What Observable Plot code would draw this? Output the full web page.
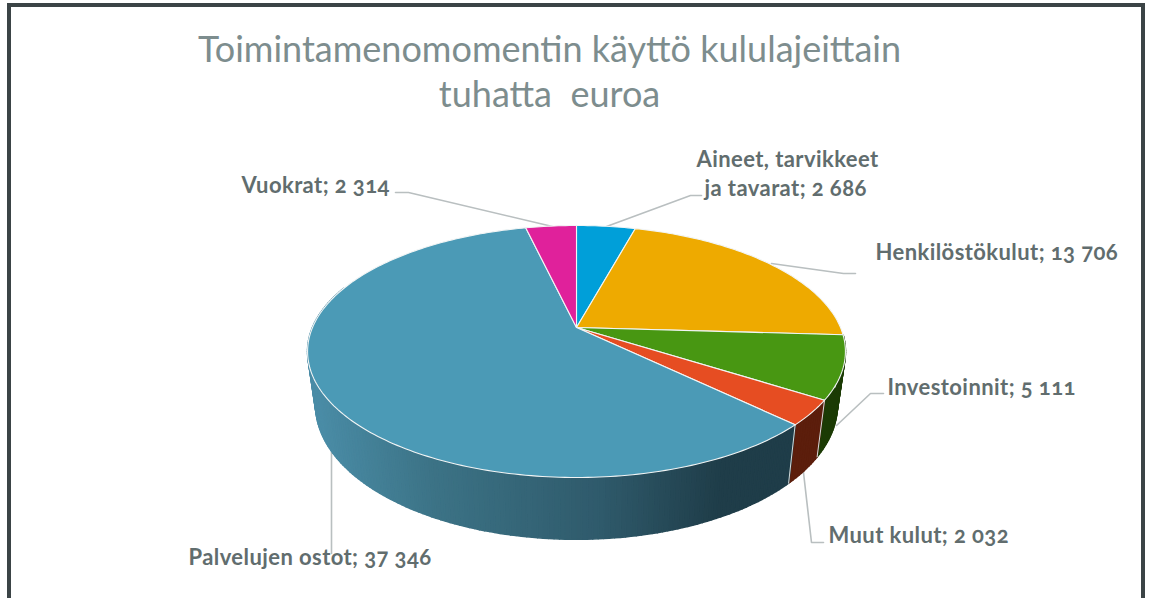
<!DOCTYPE html>
<html><head><meta charset="utf-8">
<script src="https://cdn.jsdelivr.net/npm/d3@7"></script>
<script src="https://cdn.jsdelivr.net/npm/@observablehq/plot@0.6"></script>
<style>html,body{margin:0;padding:0;background:#fff;overflow:hidden}
svg{display:block;font-variant-numeric:oldstyle-nums}
.lbl text{letter-spacing:.42px}</style>
</head><body><div id="chart"></div>
<script>
const categories = ["Aineet, tarvikkeet ja tavarat","Henkilöstökulut","Investoinnit","Muut kulut","Palvelujen ostot","Vuokrat"];
const values = [2686,13706,5111,2032,37346,2314];
const valueLabels = ["2 686","13 706","5 111","2 032","37 346","2 314"];
const topColors = ["#009fd9","#eeaa00","#489712","#e64d22","#4b9ab6","#e0219b"];
const sideColors = ["#00597a","#6a4c00","#1c3b05","#5c1e0c",null,"#7a1056"];

// layout
const W=1149,H=598,cx=576,cy=327,a=264,b=121.4,k=0.1905,sx=0.97,sy=1.065,depthY=52;
const total=d3.sum(values);
let acc=0; const slices=values.map((v,i)=>{const s=acc;acc+=v;return {i,start:s/total*360,end:acc/total*360};});
const proj=t=>{const r=t*Math.PI/180,u=Math.sin(r),v=-Math.cos(r),d=1-k*v;return [a*u/d,b*v/d];};
const topP=t=>{const [X,Y]=proj(t);return [cx+X,cy+Y];};
const botP=t=>{const [X,Y]=proj(t);return [cx+X*sx,cy+depthY+Y*sy];};
const sideGrad=d3.scaleLinear().domain([315,430,600,720]).range(["#4a8ca6","#3c7386","#2f5a6b","#1f3d49"]).clamp(true);

// side strips, back to front
const strips=[];let sid=0;
const pushStrip=(t0,t1,fill)=>{const id=sid++;const pts=[topP(t0),topP(t1),botP(t1),botP(t0)];
  pts.forEach(p=>strips.push({x:p[0],y:p[1],id,fill}));};
const step=1;
slices.forEach(s=>{const c=sideColors[s.i];
  if(s.i===2||s.i===3){for(let t=s.start;t<s.end;t+=step)pushStrip(t,Math.min(t+step,s.end),c);}
  if(s.i===4){for(let t=s.start;t<290;t+=step){const m=topP(t+step/2)[0];pushStrip(t,t+step,sideGrad(m));}}
});
// top slices
const tops=[];
slices.forEach(s=>{tops.push({x:cx,y:cy,i:s.i,fill:topColors[s.i]});
  const n=Math.ceil((s.end-s.start)/1);
  for(let j=0;j<=n;j++){const p=topP(s.start+(s.end-s.start)*j/n);tops.push({x:p[0],y:p[1],i:s.i,fill:topColors[s.i]});}
  tops.push({x:cx,y:cy,i:s.i,fill:topColors[s.i]});});
// side separators
const seps=[slices[2].end,slices[3].end,slices[2].start].flatMap((t,n)=>[{p:topP(t),n},{p:botP(t),n}]).map(d=>({x:d.p[0],y:d.p[1],n:d.n}));

const leaders=[
 [[395,192],[408,192],[552,226]],
 [[606,226],[690,195],[701,195]],
 [[771,263],[843,273],[855,273]],
 [[883,393],[870,393],[836,425]],
 [[823,542],[811,542],[803,472]],
 [[331,452],[331,553]]
].flatMap((l,id)=>l.map(p=>({x:p[0],y:p[1],id})));

const labelText=[
 {x:696,y:159,t:"Aineet, tarvikkeet"},
 {x:704,y:188,t:"ja tavarat; "+valueLabels[0]},
 {x:875,y:252,t:categories[1]+"; "+valueLabels[1]},
 {x:887,y:387,t:categories[2]+"; "+valueLabels[2]},
 {x:828,y:535,t:categories[3]+"; "+valueLabels[3]},
 {x:188,y:557,t:categories[4]+"; "+valueLabels[4]},
 {x:241,y:185,t:categories[5]+"; "+valueLabels[5]}
];
const titleLines=[{x:549,y:50,t:"Toimintamenomomentin käyttö kululajeittain"},{x:549,y:95,t:"tuhatta  euroa"}];
const frame=[{x1:9,x2:1143,y1:5,y2:620}];
const font="Lato";

const plot=Plot.plot({
 width:W,height:H,margin:0,
 x:{domain:[0,W],range:[0,W],axis:null},
 y:{domain:[0,H],range:[0,H],axis:null},
 color:{type:"identity"},
 style:{background:"#fff",fontFamily:font},
 marks:[
  Plot.rect(frame,{x1:"x1",x2:"x2",y1:"y1",y2:"y2",fill:"none",stroke:"#3b4446",strokeWidth:4}),
  Plot.line(leaders,{x:"x",y:"y",z:"id",stroke:"#b9bfc0",strokeWidth:1.6,curve:"linear"}),
  Plot.line(strips,{x:"x",y:"y",z:"id",fill:"fill",stroke:"fill",strokeWidth:1.6,curve:"linear-closed"}),
  Plot.line(seps,{x:"x",y:"y",z:"n",stroke:"#d5dcdc",strokeWidth:1}),
  Plot.line(tops,{x:"x",y:"y",z:"i",fill:"fill",stroke:"#f2f5f5",strokeWidth:1.1,curve:"linear-closed"}),
  Plot.text(titleLines,{x:"x",y:"y",text:"t",fill:"#7d8d8e",fontSize:36,fontWeight:400,textAnchor:"middle"}),
  Plot.text(labelText,{x:"x",y:"y",text:"t",fill:"#616d6e",fontSize:22,fontWeight:700,textAnchor:"start",className:"lbl"})
 ]
});
document.getElementById("chart").append(plot);
</script></body></html>
